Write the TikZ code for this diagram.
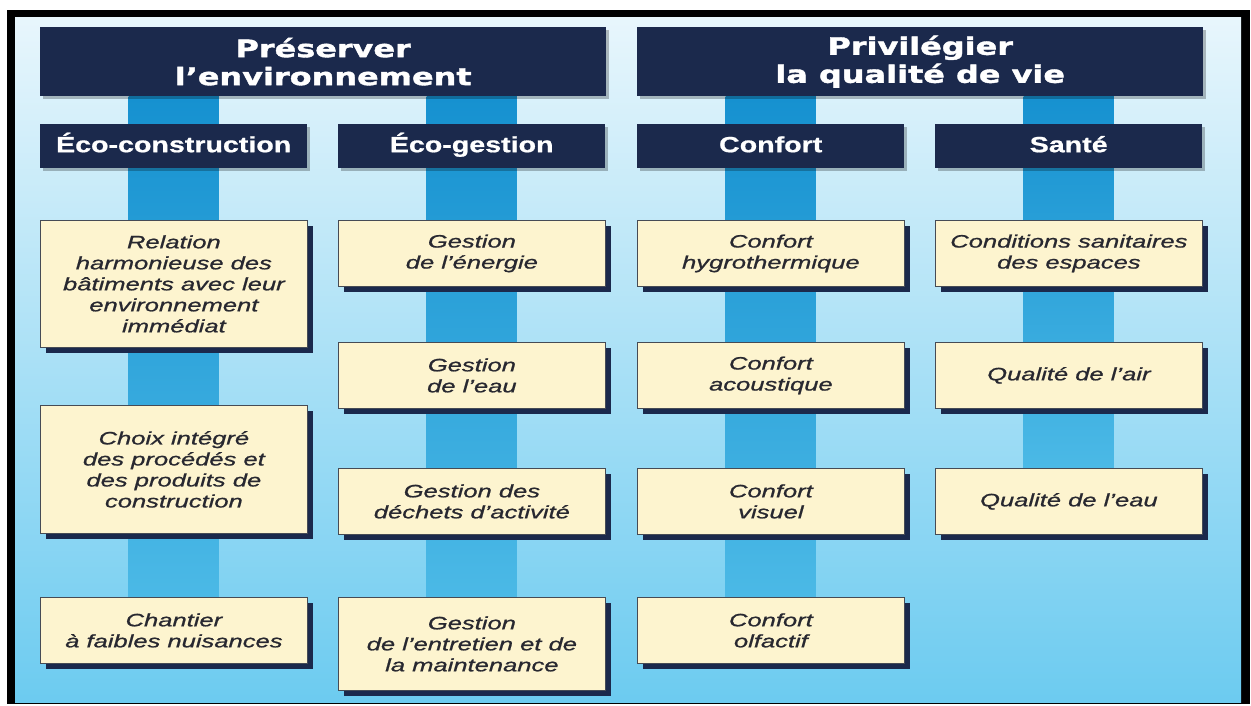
\documentclass[tikz,border=0pt]{standalone}
\usepackage{fontspec}
\setmainfont{Liberation Sans}
\newfontfamily\hdrfont[FakeStretch=1.33,FakeBold=1.6]{DejaVu Sans Bold}
\newfontfamily\subfont[FakeStretch=1.3,FakeBold=0.8]{Liberation Sans Bold}
\newfontfamily\itemfont[FakeStretch=1.42,FakeBold=0.9]{Liberation Sans Italic}
\usepackage{tikz}
\usetikzlibrary{calc,shadows,backgrounds}

\definecolor{hdrblue}{RGB}{27,41,76}
\definecolor{boxcream}{RGB}{253,244,207}
\definecolor{boxline}{RGB}{70,75,85}
\definecolor{itemgray}{RGB}{40,40,48}
\definecolor{bartop}{RGB}{22,145,208}
\definecolor{barbot}{RGB}{75,185,230}
\definecolor{bgtop}{RGB}{232,246,252}
\definecolor{bgbot}{RGB}{108,203,240}

\tikzset{
  hdr/.style={fill=hdrblue, text=white, align=center, inner sep=0pt,
    font=\hdrfont\fontsize{24}{28}\selectfont,
    minimum width=566pt, minimum height=69pt, anchor=north west,
    drop shadow={shadow xshift=3pt, shadow yshift=-3pt, fill=black, opacity=0.25}},
  sub/.style={fill=hdrblue, text=white, inner sep=0pt,
    font=\subfont\fontsize{22}{24}\selectfont,
    text height=17pt, text depth=5pt,
    minimum width=267pt, minimum height=44pt, anchor=north west,
    drop shadow={shadow xshift=3pt, shadow yshift=-3pt, fill=black, opacity=0.25}},
  item/.style={fill=boxcream, draw=boxline, line width=0.8pt, text=itemgray,
    align=center, inner sep=0pt, font=\itemfont\fontsize{18}{21}\selectfont,
    minimum width=267pt, minimum height=66pt, anchor=north west,
    drop shadow={shadow xshift=6pt, shadow yshift=-6pt, fill=hdrblue, opacity=1}},
  bar/.style={top color=bartop, bottom color=barbot}
}

\begin{document}
\begin{tikzpicture}[x=1pt,y=-1pt]
\useasboundingbox (0,0) rectangle (1251,705);

% headers
\node[hdr] (hdrP) at (40,27) {Préserver\\l’environnement};
\node[hdr] (hdrQ) at (637,27) {Privilégier\\la qualité de vie};

\node[sub] (subC) at (40,124) {Éco-construction};
\node[sub] (subG) at (338,124) {Éco-gestion};
\node[sub] (subF) at (637,124) {Confort};
\node[sub] (subS) at (935,124) {Santé};

% Eco-construction
\node[item, minimum height=127pt] (C1) at (40,220)
  {Relation\\harmonieuse des\\bâtiments avec leur\\environnement\\immédiat};
\node[item, minimum height=128pt] (C2) at (40,405)
  {Choix intégré\\des procédés et\\des produits de\\construction};
\node[item] (C3) at (40,597) {Chantier\\à faibles nuisances};

% Eco-gestion
\node[item] (G1) at (338,220) {Gestion\\de l’énergie};
\node[item] (G2) at (338,342) {Gestion\\de l’eau};
\node[item] (G3) at (338,468) {Gestion des\\déchets d’activité};
\node[item, minimum height=93pt] (G4) at (338,597)
  {Gestion\\de l’entretien et de\\la maintenance};

% Confort
\node[item] (F1) at (637,220) {Confort\\hygrothermique};
\node[item] (F2) at (637,342) {Confort\\acoustique};
\node[item] (F3) at (637,468) {Confort\\visuel};
\node[item] (F4) at (637,597) {Confort\\olfactif};

% Sante
\node[item] (S1) at (935,220) {Conditions sanitaires\\des espaces};
\node[item] (S2) at (935,342) {Qualité de l’air};
\node[item] (S3) at (935,468) {Qualité de l’eau};

\begin{scope}[on background layer]
  \fill[black] (7,10) rectangle (1250,704);
  \shade[top color=bgtop, bottom color=bgbot] (15,17) rectangle (1241,702);
  \fill[bar] ($(subC.center |- hdrP.south)+(-45,0)$) rectangle ($(C3.north)+(45,0)$);
  \fill[bar] ($(subG.center |- hdrP.south)+(-45,0)$) rectangle ($(G4.north)+(45,0)$);
  \fill[bar] ($(subF.center |- hdrQ.south)+(-45,0)$) rectangle ($(F4.north)+(45,0)$);
  \fill[bar] ($(subS.center |- hdrQ.south)+(-45,0)$) rectangle ($(S3.north)+(45,0)$);
\end{scope}
\end{tikzpicture}
\end{document}
